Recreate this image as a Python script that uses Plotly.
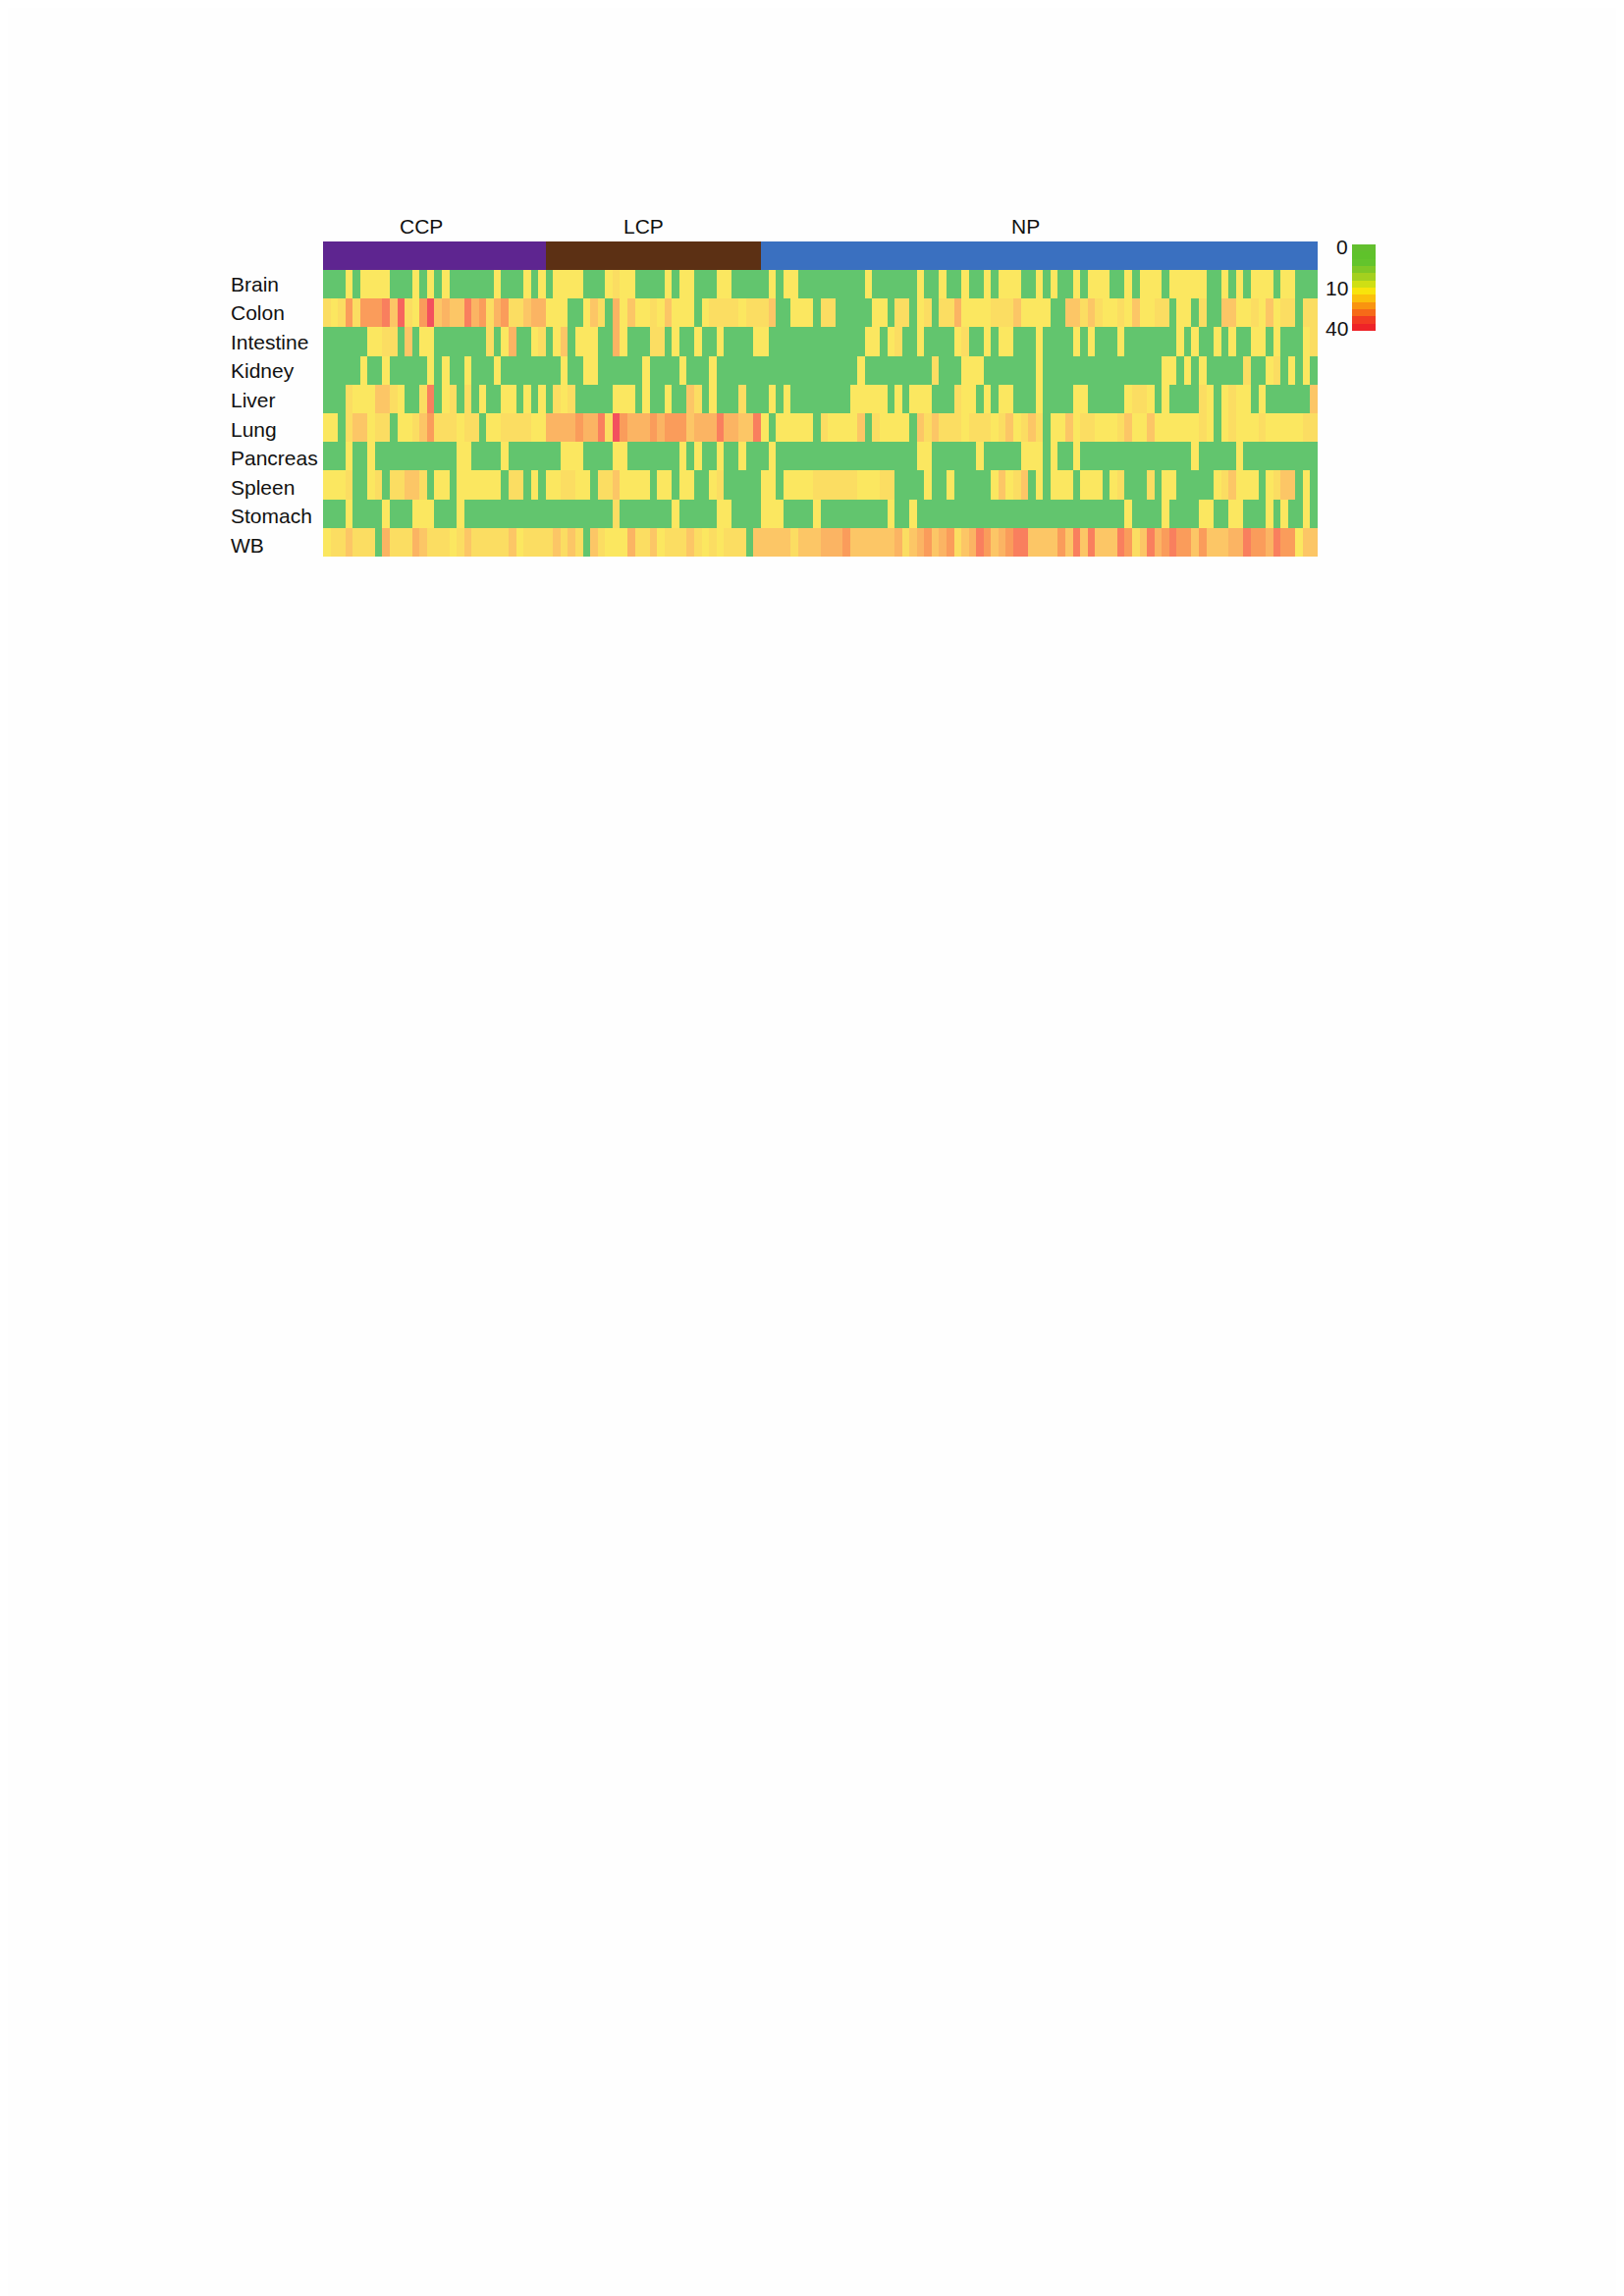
import plotly.graph_objects as go

PAGE_MARGIN = 8
W, H = 1654 - PAGE_MARGIN, 2339 - PAGE_MARGIN

row_names = ["Brain", "Colon", "Intestine", "Kidney", "Liver", "Lung", "Pancreas", "Spleen", "Stomach", "WB"]
group_names = ["CCP", "LCP", "NP"]
group_sizes = [30, 29, 75]
legend_ticks = ["0", "10", "40"]

brain = [0,0,0,1,0,1,1,1,1,0,0,0,1,0,1,0,1,0,0,0,0,0,0,1,0,0,0,1,0,1,
         0,1,1,1,1,0,0,0,1,2,1,1,0,0,0,0,1,0,1,1,0,0,0,1,1,0,0,0,0,
         0,1,0,1,1,0,0,0,0,0,0,0,0,0,1,0,0,0,0,0,0,1,0,0,1,0,0,1,0,0,
         1,0,1,1,1,0,0,1,0,1,0,0,1,0,1,1,1,0,0,1,0,1,1,1,0,1,1,1,1,1,0,0,1,0,1,0,1,1,1,0,1,1,0,0,0]
colon = [2,1,2,5,2,5,5,5,6,3,7,2,1,5,8,3,4,3,3,6,4,5,2,4,5,2,2,3,4,4,
         1,1,1,0,0,1,3,2,0,4,1,3,1,1,2,1,3,1,1,1,0,1,2,2,2,2,1,2,2,
         2,3,0,0,1,1,1,0,2,2,0,0,0,0,0,1,1,0,2,2,0,1,2,0,2,2,4,1,1,1,
         1,2,2,2,3,1,1,1,1,0,0,3,3,2,3,2,1,1,2,1,3,1,1,2,2,0,1,1,0,2,0,0,3,3,1,1,2,1,3,1,2,2,0,2,2]
intestine = [0,0,0,0,0,0,1,1,2,2,0,3,0,1,1,0,0,0,0,0,0,0,2,0,1,4,0,0,1,2,
             0,1,3,0,1,1,1,0,0,4,1,0,0,0,2,2,0,1,0,0,1,0,0,1,0,0,0,0,1,
             1,0,0,0,0,0,0,0,0,0,0,0,0,0,1,1,0,1,2,0,0,1,0,0,0,0,1,2,0,0,
             1,0,1,1,0,0,0,1,0,0,0,0,1,0,1,0,0,0,1,0,0,0,0,0,0,0,1,0,1,0,0,1,0,1,0,0,1,1,0,1,0,0,0,1,2]
kidney = [0,0,0,0,0,1,0,0,1,0,0,0,0,0,1,0,1,0,0,1,0,0,0,1,0,0,0,0,0,0,
          0,0,1,0,0,1,1,0,0,0,0,0,0,1,0,0,0,0,1,0,0,0,1,0,0,0,0,0,0,
          0,0,0,0,0,0,0,0,0,0,0,0,0,1,0,0,0,0,0,0,0,0,0,2,0,0,0,1,1,1,
          0,0,0,0,0,0,0,1,0,0,0,0,0,0,0,0,0,0,0,0,0,0,0,0,1,1,0,1,0,1,0,0,0,0,0,2,0,0,1,2,0,1,0,1,0]
liver = [0,0,0,2,1,1,1,3,3,2,1,0,0,2,6,0,1,2,0,2,0,1,0,0,1,1,0,1,0,1,
         0,2,1,2,0,0,0,0,0,1,1,1,0,1,0,0,1,0,0,3,2,0,1,0,0,0,2,0,0,
         0,1,0,1,0,0,0,0,0,0,0,0,1,1,1,1,1,0,1,0,1,1,1,0,0,0,2,1,1,0,
         1,0,1,1,0,0,0,1,0,0,0,0,1,1,0,0,0,0,0,1,2,2,1,0,1,0,0,0,0,2,1,0,1,2,1,1,0,1,0,0,0,0,0,0,3]
lung = [1,1,0,2,3,3,1,2,2,0,1,1,2,3,5,2,2,2,1,2,2,0,1,1,2,2,2,2,1,1,
        4,4,4,4,5,4,4,6,2,8,5,4,4,4,5,4,5,5,5,3,4,4,4,6,4,4,3,3,6,
        1,0,1,1,1,1,1,0,2,1,1,1,1,3,0,2,1,1,1,1,0,3,2,3,2,2,2,1,2,2,
        2,1,2,3,1,2,3,2,0,1,1,3,1,2,2,1,1,1,2,3,1,1,3,1,1,1,1,1,1,2,1,0,1,2,1,1,1,2,1,1,1,1,1,2,2]
pancreas = [0,0,0,1,0,0,1,0,0,0,0,0,0,0,0,0,0,0,1,1,0,0,0,0,1,0,0,0,0,0,
            0,0,1,1,1,0,0,0,0,1,1,0,0,0,0,0,0,0,1,0,1,0,0,1,0,0,1,0,0,
            0,1,0,0,0,0,0,0,0,0,0,0,0,0,0,0,0,0,0,0,0,1,1,0,0,0,0,0,0,1,
            0,0,0,0,0,1,1,1,0,1,0,0,1,0,0,0,0,0,0,0,0,0,0,0,0,0,0,0,1,0,0,0,0,0,1,0,0,0,0,0,0,0,0,0,0]
spleen = [1,1,1,2,0,0,1,2,0,2,2,3,3,2,0,1,1,0,1,1,1,1,1,1,0,2,2,0,1,0,
          1,1,2,2,1,1,0,2,2,3,1,1,1,1,0,1,1,0,1,1,0,0,1,2,0,0,0,0,0,
          1,1,0,1,1,1,1,2,2,2,2,2,2,1,1,1,2,2,0,0,0,0,1,0,0,1,0,0,0,0,
          0,1,3,1,2,3,0,1,0,1,1,1,0,1,1,1,0,1,2,0,0,0,2,0,1,1,0,0,0,0,0,1,2,3,1,1,1,0,1,2,3,3,0,1,0]
stomach = [0,0,0,1,0,0,0,0,1,0,0,0,1,1,1,0,0,0,1,0,0,0,0,0,0,0,0,0,0,0,
           0,0,0,0,0,0,0,0,0,2,0,0,0,0,0,0,0,1,0,0,0,0,0,1,1,0,0,0,0,
           1,1,1,0,0,0,0,1,0,0,0,0,0,0,0,0,0,1,0,0,1,0,0,0,0,0,0,0,0,0,
           0,0,0,0,0,0,0,0,0,0,0,0,0,0,0,0,0,0,0,1,0,0,0,0,1,0,0,0,0,1,1,0,0,1,1,0,0,0,1,0,1,0,0,1,0]
wb = [1,2,2,3,2,2,2,0,4,2,2,2,4,3,2,2,2,1,2,3,2,2,2,2,2,3,1,2,2,2,
      2,3,2,3,2,0,3,2,1,1,1,4,2,2,3,1,2,2,2,3,2,1,2,1,2,2,2,0,3,
      3,3,3,3,2,3,3,3,4,4,4,5,3,3,3,3,3,3,4,2,3,4,5,3,4,5,2,3,4,6,
      5,3,4,5,6,6,3,3,3,3,5,3,6,3,6,3,3,3,6,5,2,3,6,4,5,6,5,5,3,5,3,3,3,4,4,6,5,5,4,6,5,5,1,3,3]
matrix = [brain, colon, intestine, kidney, liver, lung, pancreas, spleen, stomach, wb]

# legend steps, top to bottom
legend_values = list(range(12))

level_colors = ["#62C56E", "#FBE760", "#FBDD62", "#FCC666", "#FBB463", "#FA9C5B", "#F97F5E", "#F6645E", "#F3505E"]
legend_colors = ["#62BF2E", "#5FC22B", "#63C42C", "#80C826", "#A4D01F", "#CFDF14", "#F8E40C", "#FBC00C", "#F99410", "#F66A18", "#F23C22", "#EE2328"]

def band(colors):
    n = len(colors)
    out = []
    for i, c in enumerate(colors):
        out += [[i / n, c], [(i + 1) / n, c]]
    return out

def fx(a):
    return (a - PAGE_MARGIN) / W

def fy(a):
    return 1 - (a - PAGE_MARGIN) / H

def px_x(a, b):
    return [fx(a), fx(b)]

def px_y(a, b):
    return [fy(b), fy(a)]

group_ids = [i for i, n in enumerate(group_sizes) for _ in range(n)]
n_cols = max(len(r) for r in matrix)

fig = go.Figure()
fig.add_trace(go.Heatmap(z=matrix, colorscale=band(level_colors), zmin=-0.5, zmax=8.5,
                         showscale=False, xaxis="x", yaxis="y", xgap=0, ygap=0))
fig.add_trace(go.Heatmap(z=[group_ids], colorscale=band(["#5E2590", "#5C3014", "#3A70C0"]), zmin=-0.5, zmax=2.5,
                         showscale=False, xaxis="x2", yaxis="y2"))
fig.add_trace(go.Heatmap(z=[[v] for v in legend_values], colorscale=band(legend_colors), zmin=-0.5, zmax=11.5,
                         showscale=False, xaxis="x3", yaxis="y3"))

hidden = dict(showgrid=False, zeroline=False, showticklabels=False, ticks="", showline=False)
fig.update_layout(
    width=W, height=H, autosize=False, margin=dict(l=0, r=0, t=0, b=0),
    paper_bgcolor="#FEFEFE", plot_bgcolor="#FEFEFE", showlegend=False,
    font=dict(family="Liberation Sans, Arial, sans-serif", size=21, color="#111111"),
    xaxis=dict(domain=px_x(329, 1342), range=[-0.5, n_cols - 0.5], **hidden),
    yaxis=dict(domain=px_y(275, 567), range=[9.5, -0.5], **hidden),
    xaxis2=dict(domain=px_x(329, 1342), range=[-0.5, n_cols - 0.5], anchor="y2", **hidden),
    yaxis2=dict(domain=px_y(246, 275), range=[-0.5, 0.5], anchor="x2", **hidden),
    xaxis3=dict(domain=px_x(1377, 1401), range=[-0.5, 0.5], anchor="y3", **hidden),
    yaxis3=dict(domain=px_y(249, 337), range=[11.5, -0.5], anchor="x3", **hidden),
)

for i, name in enumerate(row_names):
    fig.add_annotation(text=name, xref="paper", yref="paper", x=fx(233), y=fy(289 + 29.6 * i),
                       xanchor="left", yanchor="middle", showarrow=False)
for name, cx in zip(group_names, [429, 655, 1044]):
    fig.add_annotation(text=name, xref="paper", yref="paper", x=fx(cx), y=fy(231),
                       xanchor="center", yanchor="middle", showarrow=False)
for name, cy in zip(legend_ticks, [252, 293, 335]):
    fig.add_annotation(text=name, xref="paper", yref="paper", x=fx(1375), y=fy(cy),
                       xanchor="right", yanchor="middle", showarrow=False)

fig.write_html("out.html")
